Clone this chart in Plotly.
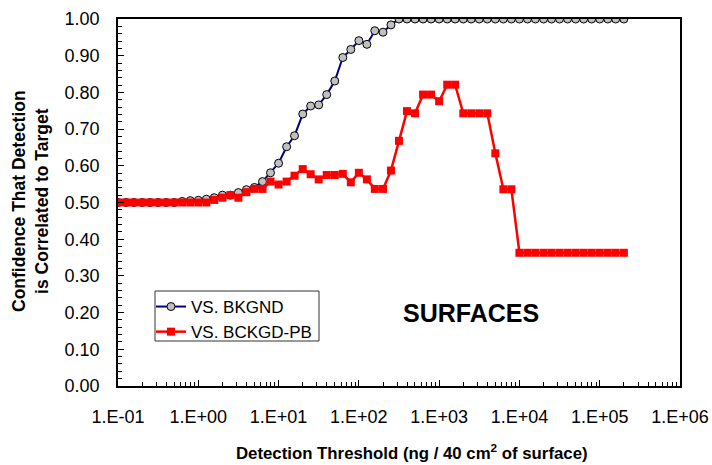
import plotly.graph_objects as go

threshold = [0.1, 0.126, 0.158, 0.2, 0.251, 0.316, 0.398, 0.501, 0.631, 0.794,
             1.0, 1.26, 1.58, 2.0, 2.51, 3.16, 3.98, 5.01, 6.31, 7.94,
             10.0, 12.6, 15.8, 20.0, 25.1, 31.6, 39.8, 50.1, 63.1, 79.4,
             100.0, 126.0, 158.0, 200.0, 251.0, 316.0, 398.0, 501.0, 631.0, 794.0,
             1000.0, 1260.0, 1580.0, 2000.0, 2510.0, 3160.0, 3980.0, 5010.0, 6310.0, 7940.0,
             10000.0, 12600.0, 15800.0, 20000.0, 25100.0, 31600.0, 39800.0, 50100.0, 63100.0, 79400.0,
             100000.0, 126000.0, 158000.0, 200000.0]

vs_bkgnd = [0.50, 0.50, 0.50, 0.50, 0.50, 0.50, 0.50, 0.50,
            0.503, 0.505, 0.506, 0.509, 0.513, 0.520, 0.520, 0.527, 0.535, 0.541,
            0.557, 0.581, 0.607, 0.652, 0.682, 0.741, 0.763, 0.766, 0.794, 0.831,
            0.895, 0.917, 0.941, 0.931, 0.968, 0.964, 0.984,
            1.0, 1.0, 1.0, 1.0, 1.0, 1.0, 1.0, 1.0, 1.0, 1.0,
            1.0, 1.0, 1.0, 1.0, 1.0, 1.0, 1.0, 1.0, 1.0, 1.0,
            1.0, 1.0, 1.0, 1.0, 1.0, 1.0, 1.0, 1.0, 1.0]

vs_bckgd_pb = [0.50, 0.50, 0.50, 0.50, 0.50, 0.50, 0.50, 0.50, 0.50, 0.50, 0.50, 0.50,
               0.507, 0.513, 0.520, 0.513, 0.528, 0.537, 0.537, 0.557, 0.549, 0.557,
               0.573, 0.591, 0.577, 0.563, 0.575, 0.575, 0.578, 0.555, 0.581, 0.563,
               0.537, 0.537, 0.587, 0.668, 0.749, 0.743, 0.794, 0.794, 0.776, 0.821,
               0.821, 0.743, 0.743, 0.743, 0.743, 0.634, 0.536, 0.536,
               0.363, 0.363, 0.363, 0.363, 0.363, 0.363, 0.363, 0.363, 0.363, 0.363,
               0.363, 0.363, 0.363, 0.363]

x_tickvals = [0.1, 1, 10, 100, 1000, 10000, 100000, 1000000]
x_ticktext = ["1.E-01", "1.E+00", "1.E+01", "1.E+02", "1.E+03", "1.E+04", "1.E+05", "1.E+06"]
y_tickvals = [0.0, 0.1, 0.2, 0.3, 0.4, 0.5, 0.6, 0.7, 0.8, 0.9, 1.0]

FONT = "Liberation Sans, Arial, sans-serif"

# plot area in page pixels
PX0, PX1, PY0, PY1 = 118, 680, 19, 386
PW, PH = PX1 - PX0, PY1 - PY0


def px(x):
    return (x - PX0) / PW


def py(y):
    return (PY1 - y) / PH


fig = go.Figure()
fig.add_trace(go.Scatter(
    x=threshold, y=vs_bkgnd, name="VS. BKGND", mode="lines+markers",
    line=dict(color="#000080", width=2),
    marker=dict(symbol="circle", size=8, color="#c0c0c0", line=dict(color="#000000", width=1)),
))
fig.add_trace(go.Scatter(
    x=threshold, y=vs_bckgd_pb, name="VS. BCKGD-PB", mode="lines+markers",
    line=dict(color="#ff0000", width=2.5),
    marker=dict(symbol="square", size=8, color="#ff0000", line=dict(width=0)),
))

fig.update_layout(
    width=712, height=465,
    margin=dict(l=PX0, r=712 - PX1, t=PY0, b=465 - PY1, pad=0, autoexpand=False),
    paper_bgcolor="white", plot_bgcolor="white",
    font=dict(family=FONT, size=18, color="black"),
    showlegend=True,
    legend=dict(x=px(151), y=py(289), xanchor="left", yanchor="top",
                bgcolor="rgba(0,0,0,0)", borderwidth=0,
                font=dict(family=FONT, size=17, color="black"),
                tracegroupgap=0, itemwidth=30),
    shapes=[dict(type="rect", xref="paper", yref="paper",
                 x0=px(155), x1=px(319), y0=py(341), y1=py(291),
                 line=dict(color="#333333", width=1), fillcolor="white", layer="below")],
    xaxis=dict(type="log", range=[-1, 6], tickvals=x_tickvals, ticktext=x_ticktext,
               automargin=False,
               ticks="inside", ticklen=6, tickcolor="black", tickwidth=1,
               showline=True, linecolor="black", linewidth=1.5, mirror=True,
               showgrid=False, zeroline=False, ticklabelstandoff=14,
               minor=dict(ticks="inside", ticklen=4, tickcolor="black", showgrid=False,
                          tickvals=[m * 10 ** e for e in range(-1, 6) for m in range(2, 10)])),
    yaxis=dict(range=[0, 1], tickvals=y_tickvals, tickformat=".2f",
               automargin=False,
               ticks="inside", ticklen=6, tickcolor="black", tickwidth=1,
               showline=True, linecolor="black", linewidth=1.5, mirror=True,
               showgrid=False, zeroline=False, ticklabelstandoff=13,
               minor=dict(ticks="inside", ticklen=4, tickcolor="black", dtick=0.02, showgrid=False)),
    annotations=[
        dict(text="<b>Detection Threshold (ng / 40 cm<sup>2</sup> of surface)</b>",
             xref="paper", yref="paper", x=px(412), y=py(452), xanchor="center", yanchor="middle",
             showarrow=False, font=dict(family=FONT, size=16.8, color="black")),
        dict(text="<b>Confidence That Detection<br>is Correlated to Target</b>",
             xref="paper", yref="paper", x=px(30), y=py(201), xanchor="center", yanchor="middle",
             textangle=-90, showarrow=False, font=dict(family=FONT, size=17.5, color="black")),
        dict(text="<b>SURFACES</b>", xref="paper", yref="paper",
             x=px(471), y=py(313), xanchor="center", yanchor="middle",
             showarrow=False, font=dict(family=FONT, size=25, color="black")),
    ],
)

fig.write_html("out.html",
               config={"displayModeBar": False},
               post_script="document.body.style.margin='0';document.body.style.overflow='hidden';")
